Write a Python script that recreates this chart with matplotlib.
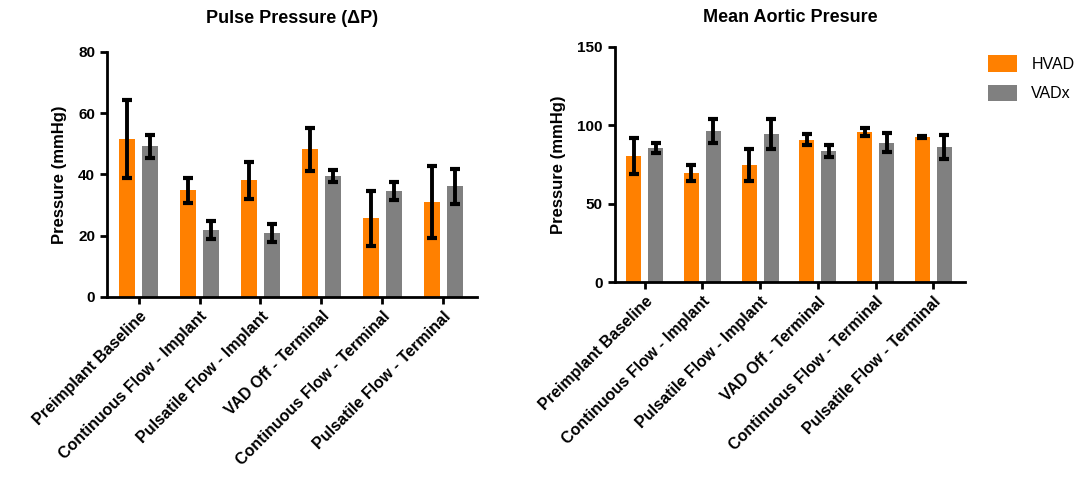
import matplotlib

matplotlib.use("Agg")
import matplotlib.pyplot as plt
import numpy as np

plt.rcParams["font.family"] = ["Liberation Sans", "DejaVu Sans"]
plt.rcParams["font.weight"] = "bold"

categories = ["Preimplant Baseline", "Continuous Flow - Implant",
              "Pulsatile Flow - Implant", "VAD Off - Terminal",
              "Continuous Flow - Terminal", "Pulsatile Flow - Terminal"]

# pulse pressure (mmHg)
pp_hvad = [51.5, 34.8, 38.1, 48.2, 25.7, 30.9]
pp_hvad_err = [12.8, 4.0, 6.1, 7.0, 9.0, 11.7]
pp_vadx = [49.2, 21.8, 20.9, 39.4, 34.5, 36.1]
pp_vadx_err = [3.8, 3.0, 3.0, 2.0, 3.0, 5.8]

# mean aortic pressure (mmHg)
map_hvad = [80.4, 69.6, 74.7, 90.7, 95.8, 92.6]
map_hvad_err = [11.2, 5.4, 10.5, 3.5, 2.8, 0.8]
map_vadx = [85.6, 96.4, 94.5, 83.6, 88.8, 86.2]
map_vadx_err = [3.4, 7.5, 9.8, 4.0, 6.0, 7.6]

ORANGE = "#FF8000"
GREY = "#808080"


def panel(ax, hvad, hvad_err, vadx, vadx_err, title, ymax, yticks, pad):
    x = np.arange(len(categories))
    w = 0.26
    off = 0.19
    ax.bar(x - off, hvad, w, color=ORANGE, label="HVAD")
    ax.bar(x + off, vadx, w, color=GREY, label="VADx")
    ekw = dict(fmt="none", ecolor="black", elinewidth=2.8, capsize=3.5, capthick=3)
    ax.errorbar(x - off, hvad, yerr=hvad_err, **ekw)
    ax.errorbar(x + off, vadx, yerr=vadx_err, **ekw)
    ax.set_xlim(-0.52, len(categories) - 0.45)
    ax.set_ylim(0, ymax)
    ax.set_yticks(yticks)
    ax.set_xticks(x)
    ax.set_xticklabels(categories, rotation=45, ha="right", rotation_mode="anchor",
                       fontsize=11.5, fontweight="bold")
    for lab in ax.get_yticklabels():
        lab.set_fontweight("bold")
        lab.set_fontsize(11)
    ax.set_ylabel("Pressure (mmHg)", fontsize=12, fontweight="bold", labelpad=8)
    ax.set_title(title, fontsize=13, fontweight="bold", pad=pad)
    for s in ["top", "right"]:
        ax.spines[s].set_visible(False)
    for s in ["left", "bottom"]:
        ax.spines[s].set_linewidth(2)
    ax.tick_params(width=2, length=5, direction="out")


fig = plt.figure(figsize=(10.86, 4.94), dpi=100)
ax1 = fig.add_axes([0.0985, 0.399, 0.3405, 0.496])
ax2 = fig.add_axes([0.566, 0.429, 0.3226, 0.476])

panel(ax1, pp_hvad, pp_hvad_err, pp_vadx, pp_vadx_err,
      "Pulse Pressure (ΔP)", 80, [0, 20, 40, 60, 80], 21)
panel(ax2, map_hvad, map_hvad_err, map_vadx, map_vadx_err,
      "Mean Aortic Presure", 150, [0, 50, 100, 150], 18)

ax2.legend(loc="upper left", bbox_to_anchor=(1.066, 0.965), frameon=False,
           borderaxespad=0, borderpad=0, handlelength=1.8, handleheight=1.2,
           handletextpad=0.9, labelspacing=0.8,
           prop={"weight": "normal", "size": 11.5})

fig.savefig("out.png", dpi=100)
